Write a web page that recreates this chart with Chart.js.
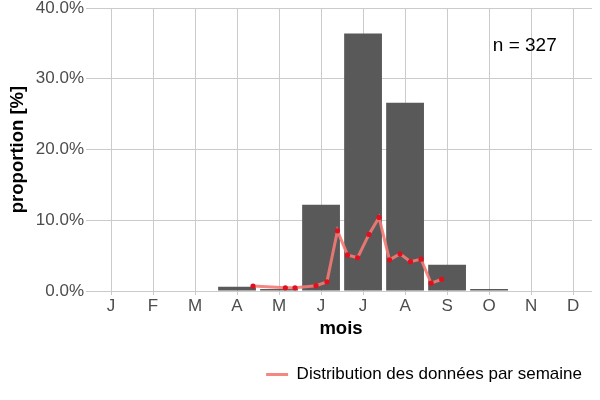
<!DOCTYPE html>
<html>
<head>
<meta charset="utf-8">
<script src="https://cdn.jsdelivr.net/npm/chart.js@4/dist/chart.umd.min.js"></script>
<style>
  html, body { margin: 0; padding: 0; background: #fff; }
  #wrap { width: 600px; height: 400px; }
</style>
</head>
<body>
<div id="wrap"><canvas id="moisChart"></canvas></div>
<script>
// mois (1 = janvier ... 12 = décembre)
const monthLabels = ['J', 'F', 'M', 'A', 'M', 'J', 'J', 'A', 'S', 'O', 'N', 'D'];
const monthPos = [1, 2, 3, 4, 5, 6, 7, 8, 9, 10, 11, 12];
// proportion mensuelle [%]
const monthShare = [0, 0, 0, 0.6, 0.3, 12.2, 36.4, 26.6, 3.7, 0.3, 0, 0];
// distribution par semaine (position en mois, proportion [%])
const weekPos = [4.38, 5.15, 5.38, 5.88, 6.14, 6.39, 6.63, 6.87, 7.14, 7.38, 7.63, 7.88, 8.13, 8.38, 8.62, 8.87];
const weekShare = [0.7, 0.45, 0.45, 0.75, 1.3, 8.5, 5.1, 4.7, 8.0, 10.4, 4.4, 5.25, 4.15, 4.5, 1.1, 1.65];
const yTicks = [0, 10, 20, 30, 40];
const nTotal = 327;

const font = 'Liberation Sans, Arial, sans-serif';
const gridGrey = '#cbcbcb';
const lineColor = 'rgba(244, 122, 118, 0.9)';

// texte "n = 327" dans le panneau
const nLabel = {
    id: 'nLabel',
    afterDatasetsDraw(chart) {
        const {ctx, scales} = chart;
        ctx.save();
        ctx.font = '19px ' + font;
        ctx.fillStyle = '#000';
        ctx.textAlign = 'center';
        ctx.textBaseline = 'middle';
        ctx.fillText('n = ' + nTotal, scales.x.getPixelForValue(10.85), scales.y.getPixelForValue(34.6));
        ctx.restore();
    }
};

const data = {
    datasets: [{
        type: 'line',
        label: 'Distribution des données par semaine',
        data: weekPos.map((x, i) => ({x: x, y: weekShare[i]})),
        borderColor: lineColor,
        borderWidth: 3,
        tension: 0,
        pointRadius: 2.6,
        pointBackgroundColor: '#e2101e',
        pointBorderWidth: 0,
        order: 0,
    }, {
        type: 'bar',
        label: 'mois',
        data: monthPos.map((x, i) => ({x: x, y: monthShare[i]})),
        backgroundColor: '#595959',
        borderWidth: 0,
        barPercentage: 0.9,
        categoryPercentage: 1,
        order: 1,
    }]
};

const config = {
    data: data,
    options: {
        responsive: true,
        maintainAspectRatio: false,
        animation: false,
        layout: {
            padding: {top: 8, right: 8, left: 0, bottom: 7}
        },
        scales: {
            x: {
                type: 'linear',
                min: 0.5,
                max: 12.45,
                offset: false,
                afterFit(scale) { scale.height = 65; },
                afterBuildTicks(scale) { scale.ticks = monthPos.map(v => ({value: v})); },
                grid: {color: gridGrey, tickColor: gridGrey, tickLength: 4, lineWidth: 1, offset: false},
                border: {display: false},
                ticks: {
                    color: '#4d4d4d',
                    font: {family: font, size: 17},
                    padding: 1,
                    autoSkip: false,
                    maxRotation: 0,
                    callback: (v) => monthLabels[v - 1],
                },
                title: {
                    display: true,
                    text: 'mois',
                    color: '#000',
                    font: {family: font, size: 18.5, weight: 'bold'},
                    padding: {top: 0, bottom: 16},
                },
            },
            y: {
                min: 0,
                max: 40,
                afterFit(scale) {
                    scale.width = 90;
                    scale.paddingTop = 0;
                    scale.paddingBottom = 0;
                },
                afterBuildTicks(scale) { scale.ticks = yTicks.map(v => ({value: v})); },
                grid: {color: gridGrey, tickColor: gridGrey, tickLength: 4, lineWidth: 1},
                border: {display: false},
                ticks: {
                    color: '#4d4d4d',
                    font: {family: font, size: 17},
                    padding: 2,
                    callback: (v) => v.toFixed(1) + '%',
                },
                title: {
                    display: true,
                    text: 'proportion [%]',
                    color: '#000',
                    font: {family: font, size: 18.5, weight: 'bold'},
                    padding: {top: 7, bottom: 0},
                },
            },
        },
        plugins: {
            legend: {
                position: 'bottom',
                align: 'end',
                labels: {
                    usePointStyle: true,
                    pointStyle: 'line',
                    pointStyleWidth: 22,
                    color: '#1a1a1a',
                    font: {family: font, size: 17},
                    padding: 10,
                    generateLabels: (chart) => [{
                        text: chart.data.datasets[0].label,
                        strokeStyle: lineColor,
                        fillStyle: lineColor,
                        lineWidth: 3,
                        pointStyle: 'line',
                        hidden: false,
                        datasetIndex: 0,
                    }],
                },
            },
            tooltip: {enabled: false},
        },
    },
    plugins: [nLabel],
};

new Chart(document.getElementById('moisChart'), config);
</script>
</body>
</html>
